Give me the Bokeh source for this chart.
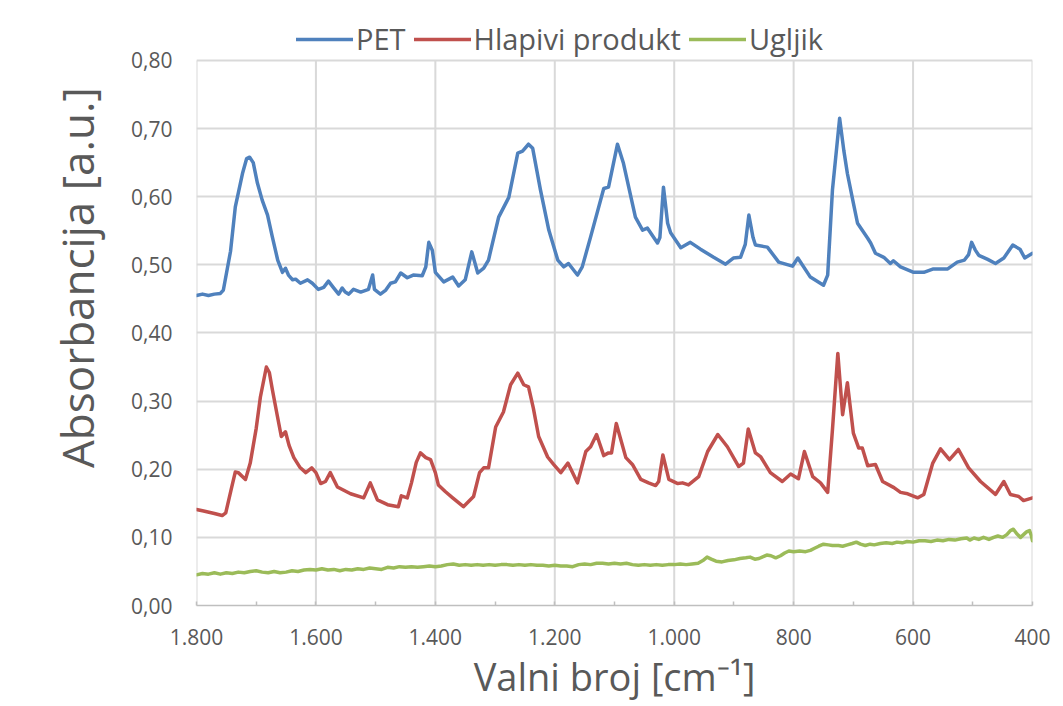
import math
from bokeh.plotting import figure
from bokeh.models import (Range1d, FixedTicker, CustomJSTickFormatter, Legend, LegendItem)
from bokeh.embed import file_html
from bokeh.resources import INLINE

# ---- data ----
pet_x = [1800, 1790, 1780, 1770, 1760, 1755, 1743, 1735, 1723, 1716, 1711, 1705, 1698, 1690, 1681,
         1673, 1664, 1656, 1651, 1646, 1639, 1634, 1626, 1614, 1606, 1596, 1587, 1579, 1571, 1562,
         1556, 1551, 1545, 1537, 1525, 1512, 1505, 1502, 1492, 1483, 1475, 1467, 1458, 1447, 1437,
         1422, 1416, 1411, 1405, 1400, 1386, 1371, 1361, 1350, 1339, 1329, 1319, 1311, 1294, 1277,
         1262, 1254, 1244, 1237, 1224, 1210, 1195, 1185, 1177, 1162, 1154, 1140, 1118, 1110, 1095,
         1085, 1065, 1053, 1045, 1028, 1024, 1018, 1011, 1006, 989, 973, 956, 934, 914, 901,
         889, 881, 875, 868, 864, 844, 825, 802, 793, 772, 750, 743, 735, 723, 716,
         710, 701, 693, 676, 671, 663, 649, 638, 633, 621, 599, 582, 566, 542, 526,
         514, 507, 502, 496, 490, 475, 462, 448, 433, 421, 413, 400]
pet_y = [0.455, 0.457, 0.455, 0.457, 0.458, 0.463, 0.520, 0.585, 0.634, 0.656, 0.658, 0.650, 0.620, 0.595, 0.573,
         0.541, 0.507, 0.489, 0.495, 0.485, 0.478, 0.479, 0.473, 0.478, 0.473, 0.464, 0.467, 0.476, 0.467, 0.457,
         0.466, 0.460, 0.457, 0.464, 0.460, 0.464, 0.485, 0.464, 0.457, 0.463, 0.473, 0.475, 0.488, 0.481, 0.485,
         0.484, 0.497, 0.533, 0.521, 0.489, 0.475, 0.482, 0.469, 0.478, 0.519, 0.488, 0.495, 0.507, 0.570, 0.599,
         0.664, 0.667, 0.677, 0.671, 0.610, 0.551, 0.507, 0.497, 0.502, 0.485, 0.497, 0.541, 0.612, 0.614, 0.677,
         0.649, 0.570, 0.551, 0.554, 0.532, 0.540, 0.614, 0.561, 0.547, 0.525, 0.533, 0.523, 0.511, 0.501, 0.510,
         0.511, 0.530, 0.573, 0.540, 0.529, 0.526, 0.504, 0.498, 0.510, 0.482, 0.470, 0.485, 0.610, 0.715, 0.668,
         0.634, 0.595, 0.561, 0.539, 0.532, 0.517, 0.511, 0.502, 0.506, 0.497, 0.489, 0.489, 0.494, 0.494, 0.504,
         0.507, 0.515, 0.533, 0.522, 0.514, 0.508, 0.502, 0.510, 0.529, 0.523, 0.510, 0.517]

hp_x = [1800, 1790, 1770, 1757, 1751, 1742, 1735, 1730, 1718, 1710, 1700, 1693, 1683, 1678, 1673,
        1665, 1658, 1651, 1645, 1637, 1627, 1617, 1607, 1600, 1592, 1584, 1576, 1564, 1542, 1520,
        1509, 1497, 1480, 1462, 1457, 1447, 1440, 1432, 1425, 1416, 1408, 1400, 1395, 1383, 1371,
        1353, 1336, 1326, 1319, 1311, 1299, 1286, 1274, 1262, 1252, 1244, 1236, 1227, 1212, 1202,
        1190, 1178, 1162, 1148, 1140, 1130, 1118, 1110, 1105, 1097, 1081, 1070, 1056, 1043, 1031,
        1026, 1019, 1009, 994, 986, 976, 959, 944, 927, 911, 892, 884, 876, 864, 855,
        839, 819, 805, 792, 782, 768, 755, 743, 735, 726, 718, 710, 700, 691, 685,
        676, 663, 651, 632, 621, 609, 592, 582, 567, 554, 539, 524, 507, 487, 462,
        448, 437, 423, 415, 400]
hp_y = [0.141, 0.139, 0.135, 0.132, 0.136, 0.170, 0.196, 0.195, 0.185, 0.209, 0.260, 0.306, 0.350, 0.342, 0.317,
        0.280, 0.248, 0.255, 0.235, 0.217, 0.203, 0.195, 0.202, 0.195, 0.179, 0.182, 0.195, 0.174, 0.164, 0.158,
        0.180, 0.155, 0.148, 0.145, 0.161, 0.158, 0.180, 0.210, 0.224, 0.217, 0.214, 0.195, 0.177, 0.167, 0.158,
        0.145, 0.160, 0.195, 0.202, 0.202, 0.262, 0.284, 0.324, 0.341, 0.324, 0.321, 0.290, 0.248, 0.218, 0.207,
        0.195, 0.209, 0.180, 0.226, 0.233, 0.251, 0.220, 0.224, 0.224, 0.267, 0.217, 0.207, 0.185, 0.180, 0.176,
        0.182, 0.221, 0.185, 0.179, 0.180, 0.177, 0.189, 0.226, 0.251, 0.233, 0.204, 0.209, 0.259, 0.224, 0.218,
        0.195, 0.182, 0.193, 0.186, 0.226, 0.189, 0.180, 0.166, 0.258, 0.370, 0.280, 0.327, 0.253, 0.231, 0.231,
        0.205, 0.207, 0.182, 0.173, 0.166, 0.164, 0.158, 0.163, 0.209, 0.230, 0.214, 0.229, 0.202, 0.182, 0.163,
        0.182, 0.163, 0.160, 0.154, 0.158]

ug_x = [1800, 1790, 1780, 1770, 1760, 1750, 1740, 1730, 1720, 1710, 1700, 1690, 1680, 1670, 1660,
        1650, 1640, 1630, 1620, 1610, 1600, 1590, 1580, 1570, 1560, 1550, 1540, 1530, 1520, 1510,
        1500, 1490, 1480, 1470, 1460, 1450, 1440, 1430, 1420, 1410, 1400, 1390, 1380, 1370, 1360,
        1350, 1340, 1330, 1320, 1310, 1300, 1290, 1280, 1270, 1260, 1250, 1240, 1230, 1220, 1210,
        1200, 1190, 1180, 1170, 1160, 1150, 1140, 1130, 1120, 1110, 1100, 1090, 1080, 1070, 1060,
        1050, 1040, 1030, 1020, 1010, 1000, 990, 980, 970, 960, 952, 945, 938, 930, 920,
        910, 900, 890, 880, 873, 865, 858, 850, 845, 838, 830, 822, 815, 808, 800,
        790, 780, 772, 765, 758, 750, 742, 735, 725, 718, 710, 702, 695, 688, 680,
        672, 665, 655, 645, 635, 627, 618, 610, 600, 590, 580, 570, 560, 550, 540,
        530, 520, 510, 505, 498, 490, 482, 473, 465, 458, 450, 443, 437, 432, 426,
        420, 415, 410, 405, 402, 400]
ug_y = [0.045, 0.047, 0.046, 0.048, 0.046, 0.048, 0.047, 0.049, 0.048, 0.050, 0.051, 0.049, 0.048, 0.050, 0.048,
        0.049, 0.051, 0.050, 0.052, 0.053, 0.052, 0.054, 0.052, 0.053, 0.051, 0.053, 0.052, 0.054, 0.053, 0.055,
        0.054, 0.053, 0.056, 0.055, 0.057, 0.056, 0.057, 0.056, 0.057, 0.058, 0.057, 0.058, 0.060, 0.061, 0.059,
        0.060, 0.059, 0.060, 0.059, 0.060, 0.059, 0.060, 0.060, 0.059, 0.060, 0.059, 0.060, 0.059, 0.059, 0.058,
        0.059, 0.058, 0.058, 0.057, 0.060, 0.061, 0.060, 0.062, 0.062, 0.061, 0.062, 0.061, 0.062, 0.060, 0.059,
        0.060, 0.059, 0.060, 0.059, 0.060, 0.060, 0.061, 0.060, 0.061, 0.062, 0.066, 0.071, 0.068, 0.065, 0.064,
        0.066, 0.067, 0.069, 0.070, 0.071, 0.068, 0.069, 0.072, 0.074, 0.073, 0.070, 0.073, 0.077, 0.080, 0.079,
        0.080, 0.079, 0.081, 0.084, 0.087, 0.090, 0.089, 0.088, 0.088, 0.087, 0.089, 0.091, 0.093, 0.090, 0.088,
        0.090, 0.089, 0.091, 0.092, 0.091, 0.093, 0.092, 0.094, 0.093, 0.095, 0.095, 0.094, 0.096, 0.095, 0.097,
        0.096, 0.098, 0.099, 0.096, 0.099, 0.097, 0.100, 0.097, 0.100, 0.102, 0.100, 0.104, 0.110, 0.112, 0.105,
        0.100, 0.104, 0.108, 0.110, 0.103, 0.095]

series_names = ["PET", "Hlapivi produkt", "Ugljik"]
series_colors = ["#4F81BD", "#C0504D", "#9BBB59"]

x_ticks = [1800, 1600, 1400, 1200, 1000, 800, 600, 400]
x_labels = ["1.800", "1.600", "1.400", "1.200", "1.000", "800", "600", "400"]
x_minor = [1800, 1700, 1600, 1500, 1400, 1300, 1200, 1100, 1000, 900, 800, 700, 600, 500, 400]
y_ticks = [0.0, 0.1, 0.2, 0.3, 0.4, 0.5, 0.6, 0.7, 0.8]
y_labels = ["0,00", "0,10", "0,20", "0,30", "0,40", "0,50", "0,60", "0,70", "0,80"]

x_title = "Valni broj [cm\u207b\u00b9]"
y_title = "Absorbancija [a.u.]"

FONT = "Open Sans"
TXT = "#595959"
GRID = "#d9d9d9"

# layout (screen px)
W, H = 1060, 704
FRAME_L, FRAME_R, FRAME_B = 196, 1032, 606
PX_PER_UNIT = 682.5           # vertical pixels per absorbance unit
FRAME_T = 15                  # frame extended above 0,80 to host the legend
y_top = y_ticks[-1] + (60 - FRAME_T) / PX_PER_UNIT

p = figure(width=W, height=H, output_backend="svg", toolbar_location=None,
           x_range=Range1d(1800, 400), y_range=Range1d(0, y_top),
           min_border_left=FRAME_L, min_border_right=W - FRAME_R,
           min_border_top=FRAME_T, min_border_bottom=H - FRAME_B)
p.outline_line_color = None
p.background_fill_color = "white"
p.border_fill_color = "white"

formatter_code = """
let best = -1; let bd = 1e18;
for (let i = 0; i < vals.length; i++) { const d = Math.abs(vals[i] - tick); if (d < bd) { bd = d; best = i; } }
return (best >= 0 && bd < 1e-6 * (Math.abs(tick) + 1)) ? labs[best] : "";
"""

xa = p.xaxis[0]
xa.ticker = FixedTicker(ticks=x_ticks, minor_ticks=x_minor)
xa.formatter = CustomJSTickFormatter(args=dict(vals=x_ticks, labs=x_labels), code=formatter_code)
xa.axis_line_color = "#bfbfbf"
xa.axis_line_width = 1.5
xa.major_tick_in = 0
xa.major_tick_out = 0
xa.minor_tick_in = 4
xa.minor_tick_out = 0
xa.minor_tick_line_color = "#bfbfbf"
xa.minor_tick_line_width = 1.5
xa.major_label_standoff = 23
xa.major_label_text_font = FONT
xa.major_label_text_font_size = "21px"
xa.major_label_text_color = TXT
xa.axis_label = x_title
xa.axis_label_standoff = 2
xa.axis_label_text_font = FONT
xa.axis_label_text_font_size = "38px"
xa.axis_label_text_font_style = "normal"
xa.axis_label_text_color = TXT

ya = p.yaxis[0]
ya.ticker = FixedTicker(ticks=y_ticks)
ya.formatter = CustomJSTickFormatter(args=dict(vals=y_ticks, labs=y_labels), code=formatter_code)
ya.axis_line_color = None
ya.major_tick_in = 0
ya.major_tick_out = 0
ya.minor_tick_line_color = None
ya.major_label_standoff = 24
ya.major_label_text_font = FONT
ya.major_label_text_font_size = "21px"
ya.major_label_text_color = TXT
# leading em/en spaces shift the centred, rotated title upwards (as in the reference)
ya.axis_label = "\u2003\u2002" + y_title
ya.axis_label_standoff = 21
ya.axis_label_text_font = FONT
ya.axis_label_text_font_size = "44px"
ya.axis_label_text_font_style = "normal"
ya.axis_label_text_color = TXT

# grid: horizontal lines via grid ticker, vertical lines drawn only up to 0,80
p.xgrid[0].grid_line_color = None
p.ygrid[0].ticker = FixedTicker(ticks=y_ticks)
p.ygrid[0].grid_line_color = GRID
p.ygrid[0].grid_line_width = 2
p.segment(x0=x_ticks, y0=[y_ticks[0]] * len(x_ticks), x1=x_ticks, y1=[y_ticks[-1]] * len(x_ticks),
          line_color=GRID, line_width=2)

renderers = []
for xs, ys, c in zip([pet_x, hp_x, ug_x], [pet_y, hp_y, ug_y], series_colors):
    r = p.line(xs, ys, line_color=c, line_width=3.5, line_join="round", line_cap="round")
    renderers.append(r)

legend = Legend(items=[LegendItem(label=n, renderers=[r]) for n, r in zip(series_names, renderers)],
                location=(100, FRAME_B - 59), orientation="horizontal", glyph_width=57, glyph_height=20,
                label_standoff=3, spacing=8, padding=0, margin=0,
                label_text_font=FONT, label_text_font_size="29px", label_text_color=TXT,
                border_line_color=None, background_fill_alpha=0)
p.add_layout(legend, "center")

open("out.html", "w").write(file_html(p, INLINE))
